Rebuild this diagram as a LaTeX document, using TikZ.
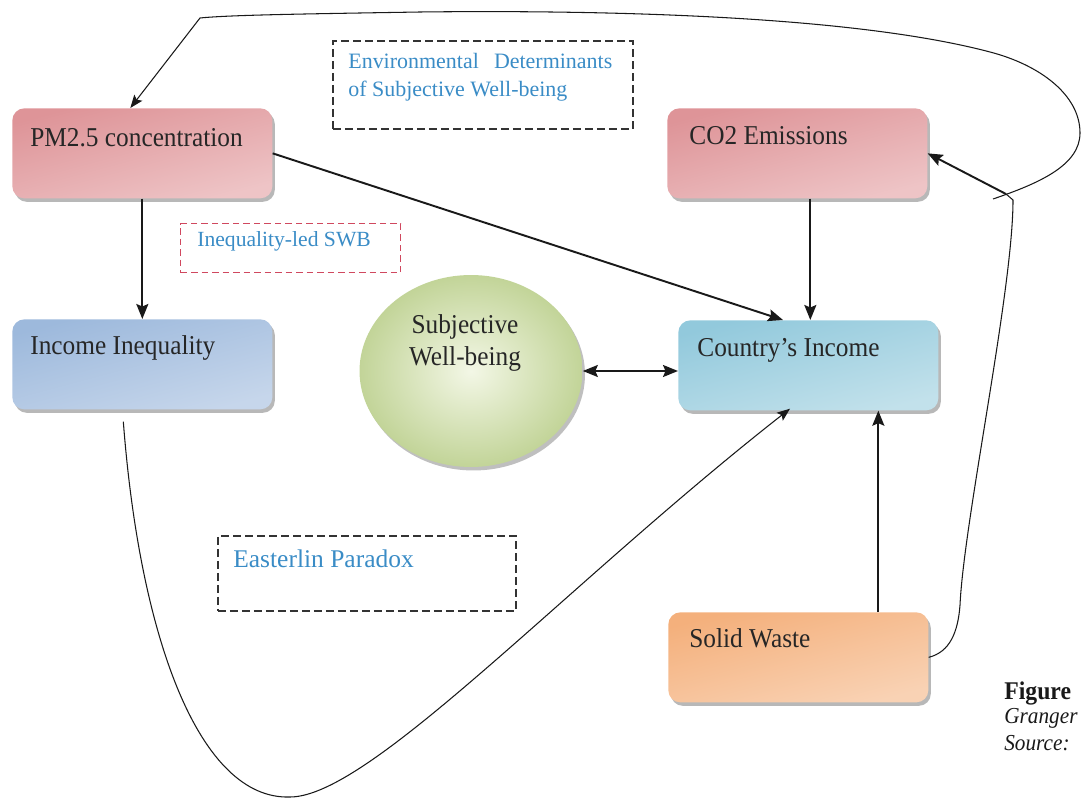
\documentclass[tikz,border=0pt]{standalone}
\usepackage{fontspec}
\setmainfont{Liberation Serif}
\newfontfamily\boxfont[FakeStretch=0.93]{Liberation Serif}
\usetikzlibrary{arrows.meta,shadows,calc,shapes.geometric}

\definecolor{pinkD}{HTML}{DE9498}
\definecolor{pinkM}{HTML}{EEC4C6}
\definecolor{pinkL}{HTML}{F9ECEC}
\definecolor{blueD}{HTML}{9DB9DC}
\definecolor{blueM}{HTML}{C6D6EB}
\definecolor{blueL}{HTML}{EDF2F8}
\definecolor{cyanD}{HTML}{92C9DC}
\definecolor{cyanM}{HTML}{C2E1EB}
\definecolor{cyanL}{HTML}{EEF7FA}
\definecolor{orangeD}{HTML}{F4B07C}
\definecolor{orangeM}{HTML}{F9D2B4}
\definecolor{orangeL}{HTML}{FEF1E7}
\definecolor{greenD}{HTML}{C2D498}
\definecolor{greenL}{HTML}{F3F7E6}
\definecolor{txtblue}{HTML}{3A8CC6}
\definecolor{dashred}{HTML}{D0485F}

\begin{document}
\begin{tikzpicture}[x=0.02cm,y=-0.02cm,
  box/.style={rectangle, rounded corners=0.24cm, minimum width=5.2cm,
    minimum height=1.8cm, inner sep=0pt,
    drop shadow={shadow xshift=0.05cm, shadow yshift=-0.07cm, fill=black, opacity=0.28}},
  pinkbox/.style={box, top color=pinkD, middle color=pinkL, bottom color=pinkM, shading angle=15},
  bluebox/.style={box, top color=blueD, middle color=blueL, bottom color=blueM, shading angle=15},
  cyanbox/.style={box, top color=cyanD, middle color=cyanL, bottom color=cyanM, shading angle=15},
  orangebox/.style={box, top color=orangeD, middle color=orangeL, bottom color=orangeM, shading angle=15},
  boxtext/.style={anchor=base west, inner sep=0pt, font=\boxfont\fontsize{15.5}{18}\selectfont, text=black!85},
  blackdash/.style={draw=black!80, line width=1.1pt, dash pattern=on 0.16cm off 0.08cm},
  reddash/.style={draw=dashred, line width=0.8pt, dash pattern=on 0.13cm off 0.08cm},
  bluetext/.style={anchor=base west, inner sep=0pt, text=txtblue},
  captext/.style={anchor=base west, inner sep=0pt, text=black!90},
  arr/.style={-{Stealth[length=0.3cm,width=0.24cm,inset=0.05cm]}, line width=1.1pt, draw=black!90},
  darr/.style={{Stealth[length=0.3cm,width=0.24cm,inset=0.05cm]}-{Stealth[length=0.3cm,width=0.24cm,inset=0.05cm]}, line width=1.1pt, draw=black!90},
  thin arr/.style={-{Stealth[length=0.26cm,width=0.2cm,inset=0.05cm]}, line width=0.6pt, draw=black!90},
  thinline/.style={line width=0.6pt, draw=black!90}
]
\useasboundingbox (0,0) rectangle (1081,800);
\clip (0,0) rectangle (1081,800);

% boxes
\node[pinkbox, anchor=north west] (pm) at (12,108) {};
\node[pinkbox, anchor=north west] (co2) at (667,108) {};
\node[bluebox, anchor=north west] (ineq) at (12,319) {};
\node[cyanbox, anchor=north west] (ci) at (678,320) {};
\node[orangebox, anchor=north west] (sw) at (668,612) {};
\node[ellipse, minimum width=4.46cm, minimum height=3.84cm, inner sep=0pt,
  inner color=greenL, outer color=greenD,
  drop shadow={shadow xshift=0.05cm, shadow yshift=-0.07cm, fill=black, opacity=0.25}] (swb) at (471,371) {};

% box labels
\node[boxtext] (pmT) at ($(pm.north west)+(18,39)$) {PM2.5 concentration};
\node[boxtext] (co2T) at ($(co2.north west)+(22,37)$) {CO2 Emissions};
\node[boxtext] (ineqT) at ($(ineq.north west)+(18,36)$) {Income Inequality};
\node[boxtext] (ciT) at ($(ci.north west)+(19,37)$) {Country’s Income};
\node[boxtext] (swT) at ($(sw.north west)+(21,35)$) {Solid Waste};
\node[align=center, inner sep=0pt, font=\boxfont\fontsize{15.5}{18.2}\selectfont, text=black!85] (swbT) at (465,343) {Subjective\\Well-being};

% dashed boxes
\node[blackdash, rectangle, anchor=north west, minimum width=6cm, minimum height=1.76cm, inner sep=0pt] (env) at (332,40) {};
\node[bluetext, anchor=north west, text width=5.28cm, align=justify,
  font=\fontsize{12.5}{15.8}\selectfont] (envT) at (348,53) {Environmental\hfill Determinants\\of Subjective Well-being};
\node[reddash, rectangle, anchor=north west, minimum width=4.4cm, minimum height=0.98cm, inner sep=0pt] (iled) at (180,223) {};
\node[bluetext, font=\fontsize{12.3}{15}\selectfont] (iledT) at (197,247) {Inequality-led SWB};
\node[blackdash, rectangle, anchor=north west, minimum width=5.96cm, minimum height=1.5cm, inner sep=0pt] (east) at (217,535) {};
\node[bluetext, font=\fontsize{14.5}{17}\selectfont] (eastT) at (233,567) {Easterlin Paradox};

% caption fragment at right edge
\node[captext, font=\boxfont\fontsize{14.5}{18}\selectfont\bfseries] (fig1) at (1004,699) {Figure};
\node[captext, font=\boxfont\fontsize{13}{18}\selectfont\itshape] (fig2) at (1004,723) {Granger};
\node[captext, font=\boxfont\fontsize{13}{18}\selectfont\itshape] (fig3) at (1004,750) {Source:};

% straight connectors
\draw[arr] (pm.east) -- ($(ci.north west)+(105,0)$);
\draw[arr] (pm.south) -- (ineq.north);
\draw[arr] ($(co2.south)+(13,0)$) -- ($(ci.north)+(2,0)$);
\draw[darr] (swb.east) -- (ci.west |- swb.east);
\draw[arr] ($(sw.north)+(80,0)$) -- ($(ci.south)+(70,0)$);

% curve from Income Inequality to Country's Income
\coordinate (bot) at (290,797);
\draw[thin arr] ($(ineq.south)+(-19,12)$) .. controls (140,640) and (200,800) .. (bot)
  .. controls (370,797) and (565,585) .. ($(ci.south west)+(112,-2)$);

% Solid Waste feedback to CO2 and PM2.5
\coordinate (jn) at (1006,194);
\draw[thinline] (sw.east) .. controls (950,652) and (958,632) .. (960,605)
  .. controls (964,520) and (1013,290) .. (1013,200) -- (jn);
\draw[arr] (jn) -- (co2.east);
\coordinate (tl) at (200,18);
\draw[thin arr] (993,199) .. controls (1040,183) and (1080,165) .. (1080,133)
  .. controls (1080,95) and (1040,65) .. (990,52)
  .. controls (850,15) and (600,10) .. (420,12)
  .. controls (300,14) and (230,15) .. (tl) -- ($(pm.north)+(-12,0)$);
\end{tikzpicture}
\end{document}
